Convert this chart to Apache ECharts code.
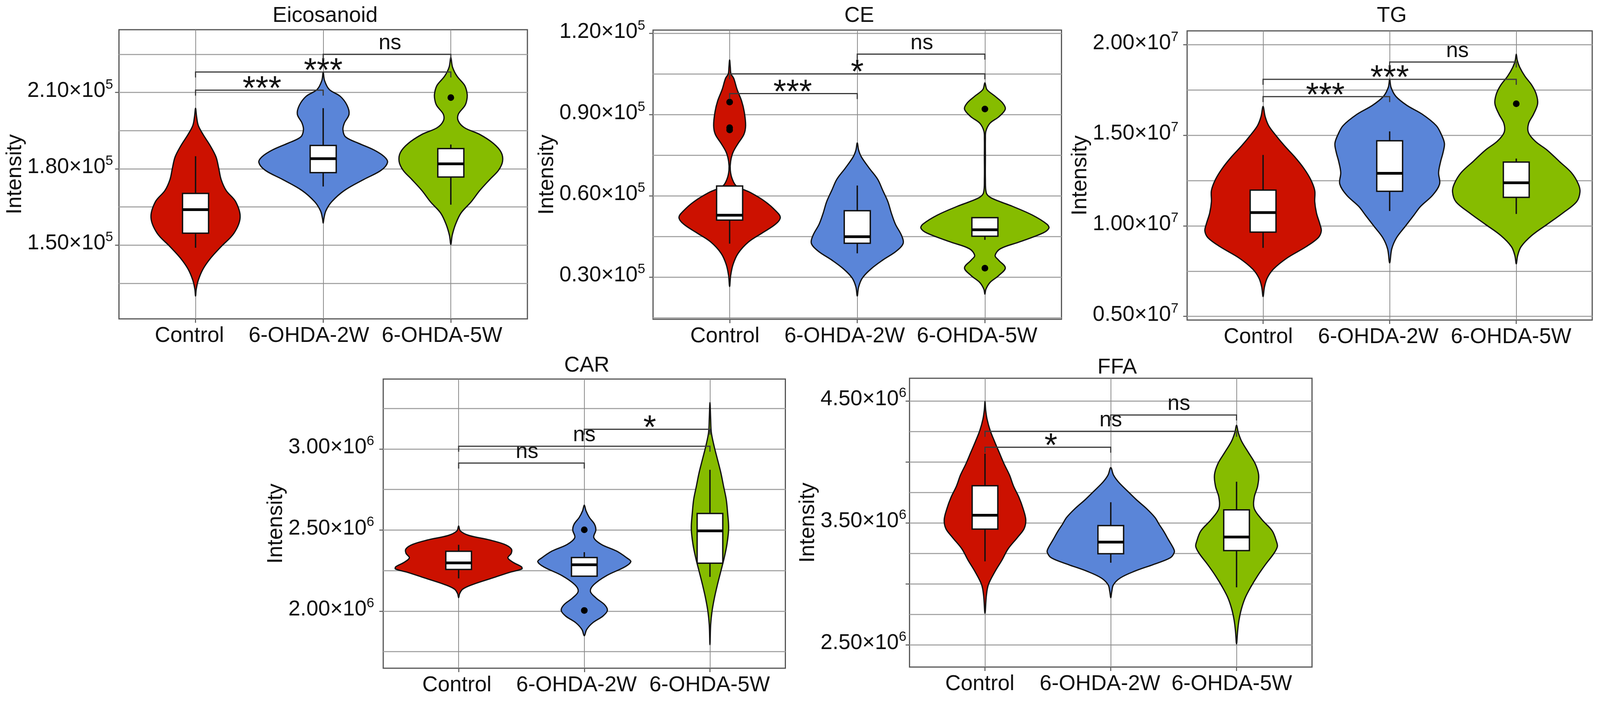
<!DOCTYPE html>
<html>
<head>
<meta charset="utf-8">
<title>Intensity violins</title>
<script src="https://cdn.jsdelivr.net/npm/echarts@6/dist/echarts.min.js"></script>
<style>
    html, body { margin: 0; padding: 0; background: #fff; overflow: hidden; }
    #main { width: 100vw; height: 100vh; }
</style>
</head>
<body>
<div id="main"></div>
<script>
const categories = ['Control', '6-OHDA-2W', '6-OHDA-5W'];
const groupColors = ['#CC1100', '#5A85D8', '#86BC00'];

// each violin: [intensity, relative density]
const eicControl = [[203800,0],[200560,3],[197030,8],[193500,22],[189090,43],[184680,60],[180270,68],[175850,75],[171440,90],[167030,118],[160850,131],[154680,113],[149380,75],[144970,45],[140560,22],[136150,8],[132620,2],[129970,0]];
const eic2W = [[217950,0],[214680,4],[211150,18],[208500,50],[204970,70],[201440,76],[197910,62],[195270,58],[192500,66],[189970,105],[187330,150],[184680,180],[182470,189],[179380,170],[175850,120],[171440,62],[167030,25],[163500,8],[160410,2],[158650,0]];
const eic5W = [[223770,0],[219970,5],[216440,18],[212910,40],[210270,47],[207970,48],[204970,42],[201440,22],[198800,22],[196150,40],[193500,85],[189970,125],[186440,148],[182910,152],[179380,140],[175850,115],[171440,85],[167030,60],[162620,30],[158210,14],[153790,4],[150260,0]];
// [low whisker, q1, median, q3, high whisker]
const eicStats = [[148940,154680,163940,170290,184940],[173030,178500,183970,189180,203830],[165880,176740,181940,187940,189530]];
const eicOutliers = [[2,207970]];
// [from group, to group, intensity, mark]
const eicBrackets = [[0,1,210890,'***'],[0,2,218030,'***'],[1,2,225000,'ns']];
const eicGrid = [135000,150000,165000,180000,195000,210000,225000];
const eicTicks = [150000,180000,210000];

const ceControl = [[110220,0],[107570,2],[105080,4],[103420,12],[99280,22],[95140,35],[90990,43],[86020,47],[82700,42],[79390,25],[76080,10],[72760,3],[69450,2],[66130,8],[63650,20],[61160,62],[57840,105],[54530,135],[52040,149],[49560,135],[46240,95],[42930,55],[38780,25],[34640,10],[30500,3],[26520,0]];
const ce2W = [[79560,0],[76900,4],[74420,12],[70270,35],[66130,60],[61990,75],[57840,90],[53700,100],[49560,112],[45410,130],[42510,135],[39610,115],[36300,75],[32980,40],[29670,15],[26350,4],[23040,0]];
const ce5W = [[101770,0],[99280,6],[96790,30],[94310,52],[92070,60],[89330,42],[86850,15],[83950,3],[81050,1.5],[74420,1.5],[66130,1.5],[61160,4],[59500,15],[57840,45],[56190,80],[52870,140],[49560,182],[48070,188],[46240,170],[42930,100],[40440,45],[37960,30],[36300,40],[33400,60],[30500,40],[28010,15],[25530,3],[23700,0]];
const ceStats = [[42350,51050,52870,63650,63650],[38780,42510,44920,54530,63810],[43760,45080,47490,51960,51960]];
const ceOutliers = [[0,94640],[0,85190],[0,84360],[2,92070],[2,33310]];
const ceBrackets = [[0,1,97790,'***'],[0,2,105080,'*'],[1,2,112370,'ns']];
const ceGrid = [15000,30000,45000,60000,75000,90000,105000,120000];
const ceTicks = [30000,60000,90000,120000];

const tgControl = [[16589000,0],[16032000,6],[15537000,16],[15041000,35],[14422000,62],[13803000,92],[13183000,118],[12564000,138],[11945000,150],[11325000,150],[10706000,155],[10087000,165],[9715000,169],[9344000,160],[8848000,125],[8229000,70],[7610000,30],[7114000,12],[6619000,4],[6098000,0]];
const tg2W = [[18100000,0],[17642000,4],[17147000,18],[16651000,50],[16156000,95],[15537000,135],[15041000,150],[14546000,159],[14050000,155],[13555000,148],[12935000,142],[12316000,145],[11697000,125],[11078000,90],[10582000,70],[9963000,45],[9344000,20],[8724000,6],[7956000,0]];
const tg5W = [[19475000,0],[19128000,3],[18757000,10],[18261000,25],[17766000,45],[17271000,58],[16738000,62],[16156000,50],[15660000,36],[15165000,35],[14670000,55],[14174000,90],[13555000,125],[12935000,160],[12316000,180],[11870000,185],[11325000,175],[10706000,135],[10087000,90],[9467000,45],[8848000,14],[8353000,4],[7907000,0]];
const tgStats = [[8786000,9653000,10731000,11969000,13914000],[10817000,11907000,12898000,14694000,15214000],[10656000,11573000,12378000,13518000,13716000]];
const tgOutliers = [[2,16738000]];
const tgBrackets = [[0,1,17134000,'***'],[0,2,18088000,'***'],[1,2,19042000,'ns']];
const tgGrid = [5000000,7500000,10000000,12500000,15000000,17500000,20000000];
const tgTicks = [5000000,10000000,15000000,20000000];

const carControl = [[2524900,0],[2494500,5],[2466800,30],[2439200,90],[2411600,135],[2384000,155],[2356400,155],[2328700,145],[2301100,160],[2273500,185],[2259700,186],[2238900,150],[2204400,100],[2163000,40],[2135400,12],[2107700,3],[2082900,0]];
const car2W = [[2653300,0],[2618800,5],[2577300,15],[2535900,30],[2500000,34],[2453000,28],[2411600,50],[2370200,95],[2328700,125],[2305200,137],[2273500,120],[2218200,65],[2163000,28],[2121500,18],[2080100,35],[2038700,60],[2004100,68],[1969600,55],[1928200,25],[1886700,7],[1848100,0]];
const car5W = [[3285900,0],[3185100,2],[3102200,4],[3019300,12],[2936500,22],[2853600,32],[2770700,40],[2687800,48],[2605000,52],[2508300,55],[2411600,50],[2328700,42],[2245900,32],[2163000,22],[2080100,13],[1997200,6],[1914400,2],[1792800,0]];
const carStats = [[2201700,2256900,2297000,2368800,2408800],[2215500,2215500,2285900,2330100,2363300],[2211300,2295600,2494500,2602200,2871500]];
const carOutliers = [[1,2501400],[1,2004100]];
const carBrackets = [[0,1,2913000,'ns'],[0,2,3016600,'ns'],[1,2,3121500,'*']];
const carGrid = [1750000,2000000,2250000,2500000,2750000,3000000,3250000];
const carTicks = [2000000,2500000,3000000];

const ffaControl = [[4495400,0],[4425600,2],[4352100,6],[4260300,15],[4168500,28],[4076700,42],[3984800,56],[3893000,72],[3801200,84],[3709400,100],[3617500,112],[3525700,120],[3452300,115],[3378800,95],[3287000,68],[3195100,50],[3103300,30],[2993100,10],[2901300,4],[2758100,0]];
const ffa2W = [[3953600,0],[3893000,8],[3837900,22],[3764500,48],[3691000,75],[3617500,105],[3544100,130],[3489000,142],[3433900,155],[3360400,170],[3287000,185],[3259400,187],[3213500,175],[3158400,125],[3103300,70],[3048200,28],[2993100,8],[2938000,3],[2886600,0]];
const ffa5W = [[4300700,0],[4241900,5],[4168500,15],[4076700,35],[3984800,55],[3893000,65],[3801200,62],[3709400,52],[3617500,52],[3525700,75],[3433900,105],[3342100,118],[3305300,120],[3250200,110],[3158400,85],[3066600,62],[2974800,42],[2882900,25],[2791100,14],[2699300,7],[2607500,3],[2506500,0]];
const ffaStats = [[3184100,3448600,3562400,3804900,4067500],[3173100,3246600,3342100,3478000,3669000],[2971100,3272300,3384300,3606500,3837900]];
const ffaOutliers = [];
const ffaBrackets = [[0,1,4120700,'*'],[0,2,4251100,'ns'],[1,2,4385200,'ns']];
const ffaGrid = [2500000,2750000,3000000,3250000,3500000,3750000,4000000,4250000,4500000];
const ffaTicks = [2500000,3000000,3500000,4000000,4500000];
const ffaLabels = [2500000,3500000,4500000];

const BOX_HALF = 0.102;
const FONT = '"Liberation Sans", Arial, sans-serif';
// the layout below is written for 4317 wide; the window can come out narrower
const sx = window.innerWidth / 4317;
const TEXT = Math.round(58 * sx);

let panels = [
    {title: 'Eicosanoid', violins: [eicControl, eic2W, eic5W], stats: eicStats, outliers: eicOutliers, brackets: eicBrackets,
        grid: eicGrid, ticks: eicTicks, labels: eicTicks, exp: 5, min: 120980, max: 234680,
        box: [321, 76, 1102, 740], titleAt: [872, 8], nameGap: 228, labelGap: 15, catX: [-0.048, 0.888, 1.931], markDx: [7, 0, 8], scale: 1 / 375},
    {title: 'CE', violins: [ceControl, ce2W, ce5W], stats: ceStats, outliers: ceOutliers, brackets: ceBrackets,
        grid: ceGrid, ticks: ceTicks, labels: ceTicks, exp: 5, min: 14420, max: 121240,
        box: [1762, 77, 1102, 740], titleAt: [2313, 8], nameGap: 238, labelGap: 20, catX: [-0.037, 0.901, 1.939], markDx: [-2, 0, 2], scale: 1 / 375},
    {title: 'TG', violins: [tgControl, tg2W, tg5W], stats: tgStats, outliers: tgOutliers, brackets: tgBrackets,
        grid: tgGrid, ticks: tgTicks, labels: tgTicks, exp: 7, min: 4798000, max: 20763000,
        box: [3203, 79, 1093, 740], titleAt: [3750, 8], nameGap: 240, labelGap: 22, catX: [-0.038, 0.91, 1.959], markDx: [-3, 0, 12], scale: 1 / 367.5},
    {title: 'CAR', violins: [carControl, car2W, car5W], stats: carStats, outliers: carOutliers, brackets: carBrackets,
        grid: carGrid, ticks: carTicks, labels: carTicks, exp: 6, min: 1647800, max: 3430900,
        box: [1034, 970, 1085, 740], titleAt: [1578, 903], nameGap: 240, labelGap: 23, catX: [-0.014, 0.938, 1.997], markDx: [15, 0, 7], scale: 1 / 370},
    {title: 'FFA', violins: [ffaControl, ffa2W, ffa5W], stats: ffaStats, outliers: ffaOutliers, brackets: ffaBrackets,
        grid: ffaGrid, ticks: ffaTicks, labels: ffaLabels, exp: 6, min: 2317300, max: 4686400,
        box: [2454, 968, 1086, 739], titleAt: [3009, 908], nameGap: 222, labelGap: 8, catX: [-0.041, 0.914, 1.962], markDx: [8, 0, 14], scale: 1 / 370}
];

let grids = [], xAxes = [], yAxes = [], titles = [], series = [];

panels.forEach((p, i) => {
    grids.push({left: p.box[0] * sx, top: p.box[1], width: p.box[2] * sx, height: p.box[3], show: true,
        backgroundColor: '#fff', borderColor: '#555', borderWidth: 3});
    titles.push({text: p.title, left: p.titleAt[0] * sx, top: p.titleAt[1], textAlign: 'center',
        textStyle: {fontFamily: FONT, fontSize: TEXT, fontWeight: 'normal', color: '#111'}});

    xAxes.push({
        type: 'value', gridIndex: i, min: -0.6, max: 2.6,
        axisLine: {show: false},
        axisTick: {show: true, length: 10, customValues: [0, 1, 2], lineStyle: {color: '#555', width: 2.5}},
        splitLine: {show: true, lineStyle: {color: '#8c8c8c', width: 2}},
        axisLabel: {
            show: true, margin: 16, customValues: p.catX,
            fontFamily: FONT, fontSize: TEXT, color: '#111',
            formatter: (v) => categories[p.catX.indexOf(v)] || ''
        }
    });

    // one y axis only for the grid lines, a second one for ticks, labels and name
    yAxes.push({
        type: 'value', gridIndex: i, min: p.min, max: p.max,
        axisLine: {show: false},
        axisTick: {show: false, customValues: p.grid},
        axisLabel: {show: false},
        splitLine: {show: true, lineStyle: {color: '#a8a8a8', width: 3}}
    });
    yAxes.push({
        type: 'value', gridIndex: i, min: p.min, max: p.max, position: 'left',
        name: 'Intensity', nameLocation: 'middle', nameGap: p.nameGap * sx, nameRotate: 90,
        nameTextStyle: {fontFamily: FONT, fontSize: TEXT, color: '#111'},
        axisLine: {show: false},
        axisTick: {show: true, length: 10, customValues: p.ticks, lineStyle: {color: '#555', width: 2.5}},
        splitLine: {show: false},
        axisLabel: {
            show: true, margin: p.labelGap, customValues: p.labels, padding: [0, 0, 8, 0],
            formatter: (v) => '{b|' + (v / Math.pow(10, p.exp)).toFixed(2) + '×10}{s|' + p.exp + '}',
            rich: {
                b: {fontFamily: FONT, fontSize: TEXT, color: '#111', lineHeight: 66},
                s: {fontFamily: FONT, fontSize: 35, color: '#111', verticalAlign: 'top', lineHeight: 66, padding: [0, 0, 22, 0]}
            }
        }
    });
    const yIdx = i * 2;

    p.violins.forEach((outline, g) => {
        series.push({
            type: 'custom', xAxisIndex: i, yAxisIndex: yIdx, silent: true, z: 2,
            data: outline.map(o => [g, o[0], o[1]]),
            renderItem: (params, api) => {
                if (params.dataIndex !== 0) return null;
                const right = outline.map(o => api.coord([g + o[1] * p.scale, o[0]]));
                const left = outline.slice(1, -1).reverse().map(o => api.coord([g - o[1] * p.scale, o[0]]));
                return {
                    type: 'polygon',
                    shape: {points: right.concat(left), smooth: 0.35},
                    style: {fill: groupColors[g], stroke: '#111', lineWidth: 3.2}
                };
            }
        });
    });

    series.push({
        type: 'custom', xAxisIndex: i, yAxisIndex: yIdx, silent: true, z: 3,
        data: p.stats.map((s, g) => [g].concat(s)),
        renderItem: (params, api) => {
            const g = api.value(0);
            const at = (dx, k) => api.coord([g + dx, api.value(k)]);
            const topLeft = at(-BOX_HALF, 4), botRight = at(BOX_HALF, 2);
            const whisk = {stroke: '#111', lineWidth: 3.5};
            return {
                type: 'group',
                children: [
                    {type: 'line', shape: {x1: at(0, 1)[0], y1: at(0, 1)[1], x2: at(0, 5)[0], y2: at(0, 5)[1]}, style: whisk},
                    {type: 'rect', shape: {x: topLeft[0], y: topLeft[1], width: botRight[0] - topLeft[0], height: botRight[1] - topLeft[1]},
                        style: {fill: '#fff', stroke: '#111', lineWidth: 3.5}},
                    {type: 'line', shape: {x1: at(-BOX_HALF, 3)[0], y1: at(0, 3)[1], x2: at(BOX_HALF, 3)[0], y2: at(0, 3)[1]},
                        style: {stroke: '#000', lineWidth: 7}}
                ]
            };
        }
    });

    series.push({
        type: 'scatter', xAxisIndex: i, yAxisIndex: yIdx, silent: true, z: 4,
        symbolSize: 17, itemStyle: {color: '#000', opacity: 1},
        data: p.outliers
    });

    series.push({
        type: 'custom', xAxisIndex: i, yAxisIndex: yIdx, silent: true, z: 5,
        data: p.brackets,
        renderItem: (params, api) => {
            const b = p.brackets[params.dataIndex];
            const a = api.coord([b[0], b[2]]), c = api.coord([b[1], b[2]]);
            const star = b[3] !== 'ns';
            const pen = {stroke: '#3a3a3a', lineWidth: 3, fill: 'none'};
            return {
                type: 'group',
                children: [
                    {type: 'polyline', shape: {points: [[a[0], a[1] + 14], a, c, [c[0], c[1] + 14]]}, style: pen},
                    {type: 'text', style: {
                        x: (a[0] + c[0]) / 2 + p.markDx[params.dataIndex] * sx, y: star ? a[1] : a[1] - 28,
                        text: b[3], fontFamily: FONT, fontSize: star ? Math.round(90 * sx) : TEXT, fill: '#111',
                        align: 'center', verticalAlign: 'middle'
                    }}
                ]
            };
        }
    });
});

let myChart = echarts.init(document.getElementById('main'));
myChart.setOption({
    animation: false,
    backgroundColor: '#fff',
    title: titles,
    grid: grids,
    xAxis: xAxes,
    yAxis: yAxes,
    series: series
});
</script>
</body>
</html>
